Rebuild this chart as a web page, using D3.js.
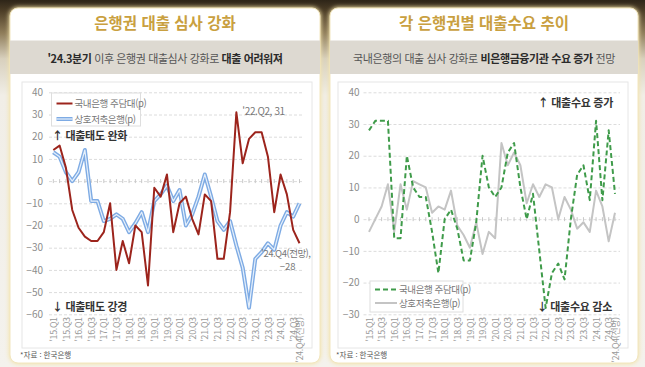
<!DOCTYPE html>
<html lang="ko">
<head>
<meta charset="utf-8">
<script src="https://cdn.jsdelivr.net/npm/d3@7"></script>
<style>
  html, body { margin: 0; padding: 0; background: #f5f3ee; }
  svg { display: block; font-family: "Noto Sans CJK KR", "Noto Sans", sans-serif; }
</style>
</head>
<body>
<svg id="chart"></svg>
<script>
// [A] Config ------------------------------------------------------------
const width = 645;
const height = 367;

// [A.1] Data ------------------------------------------------------------
const quarters = [
  "'15.Q1", "'15.Q2", "'15.Q3", "'15.Q4", "'16.Q1", "'16.Q2", "'16.Q3", "'16.Q4",
  "'17.Q1", "'17.Q2", "'17.Q3", "'17.Q4", "'18.Q1", "'18.Q2", "'18.Q3", "'18.Q4",
  "'19.Q1", "'19.Q2", "'19.Q3", "'19.Q4", "'20.Q1", "'20.Q2", "'20.Q3", "'20.Q4",
  "'21.Q1", "'21.Q2", "'21.Q3", "'21.Q4", "'22.Q1", "'22.Q2", "'22.Q3", "'22.Q4",
  "'23.Q1", "'23.Q2", "'23.Q3", "'23.Q4", "'24.Q1", "'24.Q2", "'24.Q3", "'24.Q4(전망)"
];

const tickLabels = [
  "'15.Q1", "'15.Q3", "'16.Q1", "'16.Q3", "'17.Q1", "'17.Q3", "'18.Q1", "'18.Q3",
  "'19.Q1", "'19.Q3", "'20.Q1", "'20.Q3", "'21.Q1", "'21.Q3", "'22.Q1", "'22.Q3",
  "'23.Q1", "'23.Q3", "'24.Q1", "'24.Q3", "'24.Q4(전망)"
];

const leftTicks = [40, 30, 20, 10, 0, -10, -20, -30, -40, -50, -60];
const rightTicks = [40, 30, 20, 10, 0, -10, -20, -30];

// 대출태도 (left)
const bankAttitude = [
  14, 16, 6, -13, -21, -25, -27, -27, -23, -10,
  -40, -27, -37, -20, -23, -47, -3, -7, 3, -23,
  -10, -7, -17, -24, -6, -9, -35, -35, -14, 31,
  8, 19, 22, 22, 11, -14, 3, -6, -22, -28
];
const savingsAttitude = [
  13, 11, 4, 0, 4, 14, -9, -9, -18, -17,
  -15, -17, -23, -19, -14, -23, -9, -6, -2, -9,
  -4, -20, -15, -7, 3, -7, -18, -22, -18, -29,
  -39, -57, -35, -32, -28, -31, -20, -14, -16, -10
];

// 대출수요 (right)
const bankDemand = [
  28, 31, 31, 31, -6, -6, 20, 10, 7, 7,
  -4, -17, 0, 3, -3, -13, -13, -1, 20, 10,
  7, 10, 21, 24, 10, 0, 8, -10, -28, -17,
  -14, -19, 0, 14, 17, 6, 31, 6, 28, 8
];
const savingsDemand = [
  -4, 0, 4, 11, -4, 11, 3, 12, 11, 10,
  2, 4, 3, 9, -2, -5, -9, -1, -11, -4,
  -6, 24, 17, 21, 17, 5, 11, 7, 11, 10,
  0, 7, 3, -3, -1, -4, 9, 4, -7, 2
];

// [A.2] SVG ------------------------------------------------------------
const svg = d3.select("#chart")
  .attr("width", width)
  .attr("height", height)
  .attr("viewBox", `0 0 ${width} ${height}`);

const defs = svg.append("defs");
const bg = defs.append("linearGradient").attr("id", "bgGrad")
  .attr("x1", 0).attr("y1", 0).attr("x2", 0).attr("y2", 1);
[["0", "#2e2518"], ["0.03", "#4d3e27"], ["0.09", "#8f7d5a"], ["0.16", "#d8d0bd"], ["0.26", "#f1eee7"], ["1", "#f4f2ed"]]
  .forEach(([o, c]) => bg.append("stop").attr("offset", o).attr("stop-color", c));

defs.append("filter").attr("id", "glow")
  .attr("x", "-5%").attr("y", "-5%").attr("width", "110%").attr("height", "110%")
  .append("feGaussianBlur").attr("stdDeviation", 2);

svg.append("rect").attr("width", width).attr("height", height).attr("fill", "url(#bgGrad)");

// [B] Panel ------------------------------------------------------------
function drawPanel(p) {
  const g = svg.append("g");

  // [B.1] Card
  g.append("rect")
    .attr("x", p.cardX - 1).attr("y", 7).attr("width", p.cardW + 2).attr("height", 357)
    .attr("rx", 9).attr("fill", "#f3e3a8").attr("filter", "url(#glow)");
  g.append("rect")
    .attr("x", p.cardX).attr("y", 8).attr("width", p.cardW).attr("height", 355)
    .attr("rx", 8).attr("fill", "#fff").attr("stroke", "#f2e6bf").attr("stroke-width", 1);

  g.append("text")
    .attr("x", p.cardX + p.cardW / 2).attr("y", 29)
    .attr("text-anchor", "middle")
    .attr("font-size", 15.5).attr("font-weight", 700).attr("fill", "#c9a040")
    .text(p.title);

  g.append("rect")
    .attr("x", p.cardX).attr("y", 40.5).attr("width", p.cardW).attr("height", 33.5)
    .attr("fill", "#ddd9d1");

  const sub = g.append("text")
    .attr("x", p.cardX + p.cardW / 2).attr("y", 63)
    .attr("text-anchor", "middle")
    .attr("font-size", 11).attr("fill", "#555").attr("letter-spacing", -0.4);
  p.subtitle.forEach(([t, bold]) => {
    sub.append("tspan").text(t)
      .attr("font-weight", bold ? 700 : 400)
      .attr("fill", bold ? "#2a2a2a" : "#555");
  });

  // [B.2] Inner box
  g.append("rect")
    .attr("x", p.boxX).attr("y", 82).attr("width", 290).attr("height", 266)
    .attr("fill", "#fff").attr("stroke", "#e6e6e6");

  // [B.3] Scales
  const x = d3.scalePoint().domain(quarters).range(p.xRange);
  const y = d3.scaleLinear().domain(p.yDomain).range([314.3, 92.3]);

  // [B.4] Grid + y axis
  const yAxis = g.append("g")
    .attr("transform", `translate(${p.gridX[0]},0)`)
    .call(d3.axisLeft(y).tickValues(p.yTicks).tickSize(-(p.gridX[1] - p.gridX[0])).tickPadding(p.yPad));
  yAxis.select(".domain").remove();
  yAxis.selectAll("line").attr("stroke", "#dcdcdc").attr("stroke-dasharray", "3,2");
  yAxis.selectAll("text")
    .attr("fill", "#8c8c8c").attr("font-size", 10)
    .attr("font-family", "'Noto Sans CJK KR', sans-serif")
    .text(d => d < 0 ? "\u2212" + Math.abs(d) : d);

  // [B.5] Zero axis tick marks
  g.append("g").selectAll("line")
    .data(quarters)
    .join("line")
    .attr("x1", d => x(d)).attr("x2", d => x(d))
    .attr("y1", y(0) - 2).attr("y2", y(0) + 2)
    .attr("stroke", "#c8c8c8");

  // [B.6] X labels
  const xAxis = g.append("g")
    .attr("transform", `translate(0,${y(p.yDomain[0])})`)
    .call(d3.axisBottom(x).tickValues(tickLabels).tickSize(0));
  xAxis.select(".domain").remove();
  xAxis.selectAll("text")
    .attr("transform", "rotate(-90)")
    .attr("x", -3).attr("y", 0).attr("dy", "0.35em")
    .attr("text-anchor", "end")
    .attr("fill", "#9a9a9a").attr("font-size", 8.8).attr("letter-spacing", -0.3)
    .attr("font-family", "'Noto Sans CJK KR', sans-serif");

  // [B.7] Lines
  const line = d3.line().x((d, i) => x(quarters[i])).y(d => y(d));
  p.series.forEach(s => {
    s.strokes.forEach(st => {
      g.append("path")
        .attr("d", line(s.values))
        .attr("fill", "none")
        .attr("stroke", st.color)
        .attr("stroke-width", st.width)
        .attr("stroke-dasharray", st.dash || null)
        .attr("stroke-linejoin", "round");
    });
  });

  // [B.8] Legend
  const lg = g.append("g");
  lg.append("rect")
    .attr("x", p.legend.x).attr("y", p.legend.y).attr("width", p.legend.w).attr("height", p.legend.h)
    .attr("fill", "#fff").attr("stroke", "#dedede");
  p.legend.items.forEach((it, i) => {
    const ly = p.legend.y + p.legend.rowY[i];
    it.strokes.forEach(st => {
      lg.append("line")
        .attr("x1", p.legend.x + 5).attr("x2", p.legend.x + p.legend.lineW)
        .attr("y1", ly).attr("y2", ly)
        .attr("stroke", st.color).attr("stroke-width", st.width)
        .attr("stroke-dasharray", st.dash || null);
    });
    lg.append("text")
      .attr("x", p.legend.x + p.legend.lineW + 2).attr("y", ly + 3.5)
      .attr("font-size", 9.5).attr("fill", "#777").attr("letter-spacing", -0.4)
      .text(it.label);
  });

  // [B.9] Notes
  p.notes.forEach(n => {
    g.append("text")
      .attr("x", n.x(x, y)).attr("y", n.y(x, y))
      .attr("text-anchor", n.anchor || "start")
      .attr("font-size", n.size).attr("font-weight", n.bold ? 700 : 400)
      .attr("fill", n.color).attr("letter-spacing", n.spacing || 0)
      .text(n.text);
  });

  g.append("text")
    .attr("x", p.boxX - 2).attr("y", 358)
    .attr("font-size", 7.5).attr("fill", "#555")
    .text("*자료 : 한국은행");
}

// [C] Styles ------------------------------------------------------------
const redStroke = [{ color: "#9c241c", width: 2 }];
const blueStroke = [{ color: "#7eabe4", width: 4 }, { color: "#e6f0fb", width: 1.2 }];
const greenStroke = [{ color: "#3f9b4a", width: 2, dash: "5,3" }];
const grayStroke = [{ color: "#c4c4c4", width: 2 }];

// [D] Left panel --------------------------------------------------------
drawPanel({
  cardX: 10, cardW: 310, boxX: 22,
  title: "은행권 대출 심사 강화",
  subtitle: [["'24.3분기", true], [" 이후 은행권 대출심사 강화로 ", false], ["대출 어려워져", true]],
  xRange: [53.3, 299.5],
  yDomain: [-60, 40], yTicks: leftTicks,
  gridX: [49, 303], yPad: 6,
  series: [
    { values: savingsAttitude, strokes: blueStroke },
    { values: bankAttitude, strokes: redStroke }
  ],
  legend: {
    x: 51.5, y: 93, w: 89, h: 33, lineW: 21, rowY: [10.5, 26],
    items: [
      { label: "국내은행 주담대(p)", strokes: redStroke },
      { label: "상호저축은행(p)", strokes: blueStroke }
    ]
  },
  notes: [
    { text: "↑ 대출태도 완화", x: () => 52, y: () => 140, size: 11, bold: true, color: "#333", spacing: -0.3 },
    { text: "↓ 대출태도 강경", x: () => 52, y: () => 311, size: 11, bold: true, color: "#333", spacing: -0.3 },
    { text: "'22.Q2, 31", x: (x) => x("'22.Q2") + 6, y: (x, y) => y(31) + 3, size: 10, color: "#777", spacing: -0.4 },
    { text: "'24.Q4(전망),", x: (x) => x("'24.Q4(전망)") + 11, y: (x, y) => y(-28) + 14, size: 9.5, color: "#777", anchor: "end", spacing: -0.5 },
    { text: "\u221228", x: (x) => x("'24.Q4(전망)") - 4, y: (x, y) => y(-28) + 27, size: 9.5, color: "#777", anchor: "end" }
  ]
});

// [E] Right panel -------------------------------------------------------
drawPanel({
  cardX: 330, cardW: 308, boxX: 338,
  title: "각 은행권별 대출수요 추이",
  subtitle: [["국내은행의 대출 심사 강화로 ", false], ["비은행금융기관 수요 증가", true], [" 전망", false]],
  xRange: [369, 615],
  yDomain: [-30, 40], yTicks: rightTicks,
  gridX: [363.5, 620], yPad: 4,
  series: [
    { values: savingsDemand, strokes: grayStroke },
    { values: bankDemand, strokes: greenStroke }
  ],
  legend: {
    x: 370, y: 281, w: 93, h: 31, lineW: 27, rowY: [8.5, 22],
    items: [
      { label: "국내은행 주담대(p)", strokes: greenStroke },
      { label: "상호저축은행(p)", strokes: grayStroke }
    ]
  },
  notes: [
    { text: "↑ 대출수요 증가", x: () => 613, y: () => 107, size: 11, bold: true, color: "#333", anchor: "end", spacing: -0.3 },
    { text: "↓ 대출수요 감소", x: () => 612, y: () => 311, size: 11, bold: true, color: "#333", anchor: "end", spacing: -0.3 }
  ]
});
</script>
</body>
</html>
